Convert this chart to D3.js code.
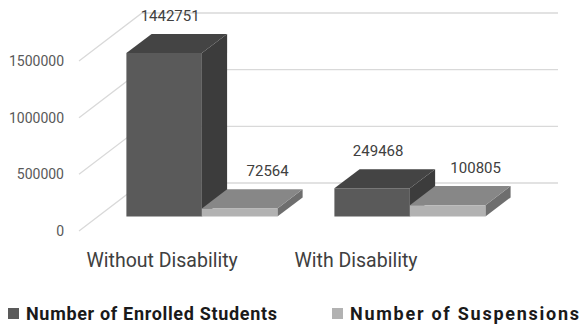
<!DOCTYPE html>
<html>
<head>
<meta charset="utf-8">
<script src="https://cdn.jsdelivr.net/npm/d3@7"></script>
<style>
  body { margin: 0; background: #fff; }
  svg { display: block; font-family: Roboto, "Noto Sans", sans-serif; }
</style>
</head>
<body>
<div id="chart"></div>
<script>
// data
const categories = ["Without Disability", "With Disability"];
const seriesNames = ["Number of Enrolled Students", "Number of Suspensions"];
const enrolled = [1442751, 249468];
const suspensions = [72564, 100805];
const yTicks = [0, 500000, 1000000, 1500000];

const width = 579, height = 324;
// 3d depth vector (px) and bar depth range
const DX = 63, DY = -48;
const zNear = 0.3, zFar = 0.7;

const faceColors = [
  { front: "#5a5a5a", top: "#444444", side: "#3c3c3c", legend: "#5a5a5a" },
  { front: "#b2b2b2", top: "#878787", side: "#6e6e6e", legend: "#b2b2b2" }
];

const svg = d3.select("#chart").append("svg")
  .attr("width", width)
  .attr("height", height);

const x = d3.scaleBand()
  .domain(categories)
  .range([79, 495]);

const y = d3.scaleLinear()
  .domain([0, 1500000])
  .range([231, 61]);

const proj = (px, py, z) => [px + z * DX, py + z * DY];
const poly = pts => "M" + pts.map(p => p.join(",")).join("L") + "Z";

// gridlines: side wall diagonal + back wall horizontal
const grid = svg.append("g");
yTicks.forEach(t => {
  const a = proj(x.range()[0], y(t), 0);
  const b = proj(x.range()[0], y(t), 1);
  const c = proj(x.range()[1], y(t), 1);
  grid.append("path")
    .attr("d", "M" + a + "L" + b + "L" + c)
    .attr("fill", "none")
    .attr("stroke", "#d9d9d9")
    .attr("stroke-width", 1.3);
});

// y tick labels
svg.append("g").selectAll("text")
  .data(yTicks)
  .enter().append("text")
    .attr("x", 64)
    .attr("y", d => y(d))
    .attr("dy", "0.35em")
    .attr("text-anchor", "end")
    .style("font-size", "14px")
    .style("fill", "#595959")
    .text(d => d);

// bars
const groupW = x.bandwidth() * 0.726;
const barW = groupW / 2;
const series = [enrolled, suspensions];
const bars = svg.append("g");

categories.forEach((cat, i) => {
  const gx = x(cat) + (x.bandwidth() - groupW) / 2;
  series.forEach((vals, s) => {
    const x0 = gx + s * barW, x1 = x0 + barW;
    const yT = y(vals[i]), yB = y(0);
    const col = faceColors[s];
    const front = [proj(x0, yT, zNear), proj(x1, yT, zNear), proj(x1, yB, zNear), proj(x0, yB, zNear)];
    const top = [proj(x0, yT, zNear), proj(x1, yT, zNear), proj(x1, yT, zFar), proj(x0, yT, zFar)];
    const side = [proj(x1, yT, zNear), proj(x1, yT, zFar), proj(x1, yB, zFar), proj(x1, yB, zNear)];
    bars.append("path").attr("d", poly(side)).attr("fill", col.side);
    bars.append("path").attr("d", poly(top)).attr("fill", col.top);
    bars.append("path").attr("d", poly(front)).attr("fill", col.front);

    // value label above the bar
    const lx = (x0 + x1) / 2 + zNear * DX + (s === 0 ? 6 : 28);
    const ly = yT + zFar * DY - 18;
    svg.append("text")
      .attr("x", lx)
      .attr("y", ly)
      .attr("dy", "0.35em")
      .attr("text-anchor", "middle")
      .style("font-size", "15px")
      .style("fill", "#404040")
      .text(vals[i]);
  });
});

// category labels
svg.append("g").selectAll("text")
  .data(categories)
  .enter().append("text")
    .attr("x", d => x(d) + 7.5)
    .attr("y", 267)
    .style("font-size", "19.5px")
    .style("fill", "#404040")
    .text(d => d);

// legend
const legendX = [8, 332];
const legendW = [251, 229];
const legend = svg.append("g");
seriesNames.forEach((name, s) => {
  legend.append("rect")
    .attr("x", legendX[s])
    .attr("y", 308)
    .attr("width", 11)
    .attr("height", 11)
    .attr("fill", faceColors[s].legend);
  legend.append("text")
    .attr("x", legendX[s] + 18)
    .attr("y", 320)
    .attr("textLength", legendW[s])
    .attr("lengthAdjust", "spacing")
    .style("font-size", "18px")
    .style("font-weight", "bold")
    .style("fill", "#1a1a1a")
    .text(name);
});
</script>
</body>
</html>
